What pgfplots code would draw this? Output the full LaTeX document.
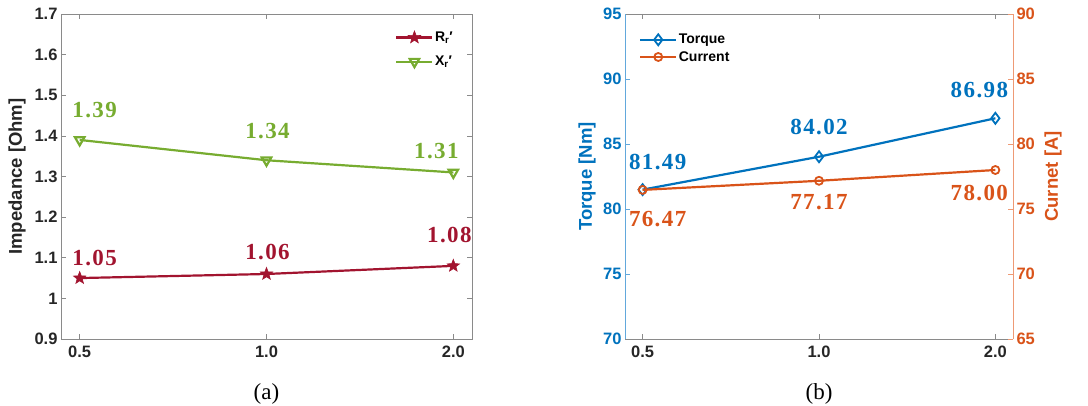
\documentclass[border=0pt]{standalone}
\usepackage{fontspec}
\setmainfont{Liberation Sans}
\newfontfamily\numfont{Liberation Serif}[LetterSpace=6]
\newfontfamily\capfont{Liberation Serif}
\usepackage{pgfplots}
\pgfplotsset{compat=1.18}

% MATLAB-like palette
\definecolor{mblue}{HTML}{0072BD}
\definecolor{morange}{HTML}{D95319}
\definecolor{mred}{HTML}{A2142F}
\definecolor{mgreen}{HTML}{77AC30}
\definecolor{tickgray}{HTML}{262626}
\definecolor{boxgray}{HTML}{8A8A8A}
\definecolor{spineblue}{HTML}{62A8DC}
\definecolor{spineorange}{HTML}{EE9A75}

% filled five-pointed star
\pgfdeclareplotmark{fstar}{%
  \pgfpathmoveto{\pgfpointpolar{90}{\pgfplotmarksize}}%
  \pgfpathlineto{\pgfpointpolar{126}{0.42\pgfplotmarksize}}%
  \pgfpathlineto{\pgfpointpolar{162}{\pgfplotmarksize}}%
  \pgfpathlineto{\pgfpointpolar{198}{0.42\pgfplotmarksize}}%
  \pgfpathlineto{\pgfpointpolar{234}{\pgfplotmarksize}}%
  \pgfpathlineto{\pgfpointpolar{270}{0.42\pgfplotmarksize}}%
  \pgfpathlineto{\pgfpointpolar{306}{\pgfplotmarksize}}%
  \pgfpathlineto{\pgfpointpolar{342}{0.42\pgfplotmarksize}}%
  \pgfpathlineto{\pgfpointpolar{18}{\pgfplotmarksize}}%
  \pgfpathlineto{\pgfpointpolar{54}{0.42\pgfplotmarksize}}%
  \pgfpathclose
  \pgfusepathqfillstroke}

\tikzset{
  vallabel/.style={font=\numfont\bfseries\fontsize{23bp}{25bp}\selectfont, anchor=center, inner sep=0pt},
  caption/.style={font=\capfont\fontsize{23bp}{26bp}\selectfont, color=black, anchor=center},
}

\pgfplotsset{
  panel/.style={
    scale only axis, height=325bp,
    xmin=-0.1, xmax=2.1,
    xtick={0,1,2}, xticklabels={0.5,1.0,2.0},
    tick align=inside, major tick length=5bp,
    /pgf/number format/assume math mode=true,
    tick label style={font=\fontsize{16.5bp}{19bp}\selectfont\bfseries, color=tickgray},
    x tick label style={yshift=-3bp},
    tick style={boxgray, line width=0.6bp},
    label style={font=\fontsize{18.5bp}{21bp}\selectfont\bfseries},
    legend cell align=left,
    legend image code/.code={%
      \draw[mark repeat=2, mark phase=2] plot coordinates {(0bp,0bp) (18bp,0bp) (36bp,0bp)};},
  },
  rr/.style={color=mred, line width=2.2bp, mark=fstar, mark size=6.5bp, mark options={line width=0.6bp}},
  xr/.style={color=mgreen, line width=2.2bp, mark=triangle, mark size=5.5bp, mark options={rotate=180, fill=white, line width=2.2bp}},
  torque/.style={color=mblue, line width=2.2bp, mark=diamond, mark size=5.5bp, mark options={fill=white, line width=1.8bp}},
  current/.style={color=morange, line width=2.2bp, mark=o, mark size=4bp, mark options={fill=white, line width=1.8bp}},
}

\begin{document}
\begin{tikzpicture}
\useasboundingbox (0,0) rectangle (1088bp,406bp);

% (a) equivalent rotor impedance
\begin{axis}[panel, name=pa, at={(61bp,67bp)}, width=411bp,
  ymin=0.9, ymax=1.7, ytick={0.9,1.0,...,1.7},
  axis line style={boxgray, line width=0.8bp},
  ylabel={Impedance [Ohm]}, ylabel style={color=tickgray, at={(axis description cs:-0.107,0.5)}, anchor=center},
  legend style={at={(axis description cs:0.813,0.950)}, anchor=north west, draw=none, fill=none,
    inner sep=0pt, row sep=10bp, font=\fontsize{14bp}{16bp}\selectfont\bfseries,
    nodes={inner sep=1.5bp}},
]
\addplot[rr] coordinates {(0,1.05) (1,1.06) (2,1.08)};
\addlegendentry{R\textsubscript{r}′}
\addplot[xr] coordinates {(0,1.39) (1,1.34) (2,1.31)};
\addlegendentry{X\textsubscript{r}′}

\node[vallabel, mgreen] at (axis cs:0,1.39) [xshift=15bp, yshift=30bp] {1.39};
\node[vallabel, mgreen] at (axis cs:1,1.34) [xshift=1bp, yshift=29bp] {1.34};
\node[vallabel, mgreen] at (axis cs:2,1.31) [xshift=-17bp, yshift=21bp] {1.31};
\node[vallabel, mred] at (axis cs:0,1.05) [xshift=15bp, yshift=20bp] {1.05};
\node[vallabel, mred] at (axis cs:1,1.06) [xshift=1bp, yshift=22bp] {1.06};
\node[vallabel, mred] at (axis cs:2,1.08) [xshift=-4bp, yshift=31bp] {1.08};
\end{axis}
\node[caption] at ([yshift=-55bp]pa.south) {(a)};

% (b) torque (left scale) and current (right scale)
\begin{axis}[panel, name=pb, at={(625bp,67bp)}, width=388bp,
  ymin=70, ymax=95, ytick={70,75,...,95},
  axis x line*=box, axis y line*=left,
  x axis line style={boxgray, line width=0.8bp},
  y axis line style={spineblue, line width=0.8bp},
  y tick label style={color=mblue},
  ytick style={spineblue},
  ylabel={Torque [Nm]}, ylabel style={color=mblue, at={(axis description cs:-0.098,0.5)}, anchor=center},
  legend style={at={(axis description cs:0.036,0.943)}, anchor=north west, draw=none, fill=none,
    inner sep=0pt, row sep=3bp, font=\fontsize{14bp}{16bp}\selectfont\bfseries,
    nodes={inner sep=1.5bp}},
]
\addplot[torque] coordinates {(0,81.49) (1,84.02) (2,86.98)};
\addlegendentry{Torque}
\addlegendimage{current}
\addlegendentry{Current}

\node[vallabel, mblue] at (axis cs:0,81.49) [xshift=15bp, yshift=28bp] {81.49};
\node[vallabel, mblue] at (axis cs:1,84.02) [xshift=0bp, yshift=30bp] {84.02};
\node[vallabel, mblue] at (axis cs:2,86.98) [xshift=-16bp, yshift=28bp] {86.98};
\end{axis}
\node[caption] at ([yshift=-55bp]pb.south) {(b)};

\begin{axis}[panel, at={(625bp,67bp)}, width=388bp,
  ymin=65, ymax=90, ytick={65,70,...,90},
  axis x line=none, axis y line*=right,
  y axis line style={spineorange, line width=0.8bp},
  y tick label style={color=morange},
  ytick style={spineorange},
  ylabel={Curnet [A]}, ylabel style={color=morange, at={(axis description cs:1.103,0.5)}, anchor=center},
]
\addplot[current] coordinates {(0,76.47) (1,77.17) (2,78.00)};

\node[vallabel, morange] at (axis cs:0,76.47) [xshift=15bp, yshift=-29bp] {76.47};
\node[vallabel, morange] at (axis cs:1,77.17) [xshift=0bp, yshift=-21bp] {77.17};
\node[vallabel, morange] at (axis cs:2,78.00) [xshift=-16bp, yshift=-23bp] {78.00};
\end{axis}
\end{tikzpicture}
\end{document}
